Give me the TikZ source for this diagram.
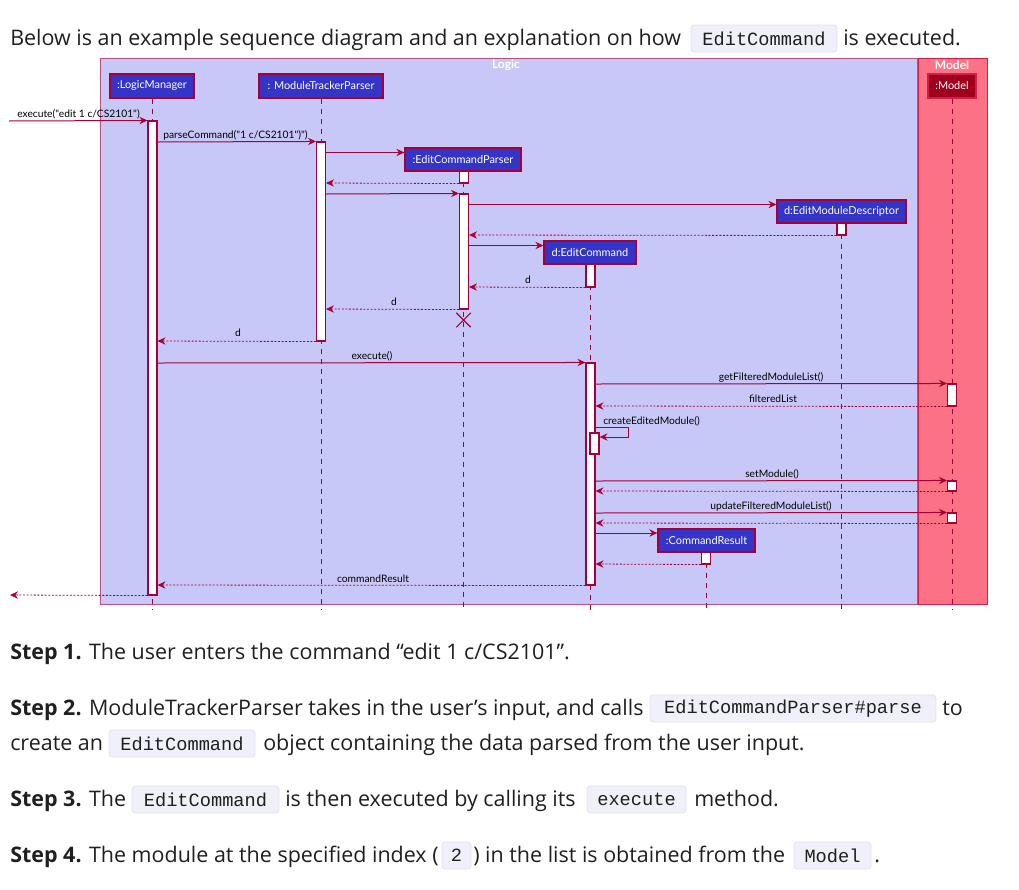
\documentclass[tikz,border=0pt]{standalone}
\usepackage{fontspec}
\setmainfont{Open Sans}
\newfontfamily\dgfont{Lato}
\setmonofont{Liberation Mono}
\usetikzlibrary{arrows.meta,shapes.misc}
\definecolor{crim}{HTML}{A80036}
\definecolor{logicfill}{HTML}{C8C8F8}
\definecolor{modelfill}{HTML}{FA7284}
\definecolor{framebd}{HTML}{C24B7F}
\definecolor{modelbd}{HTML}{D0204A}
\definecolor{partfill}{HTML}{3434C6}
\definecolor{modelpart}{HTML}{A0001C}
\definecolor{codebg}{HTML}{F0F0FA}
\definecolor{codebd}{HTML}{E2E2EE}
\definecolor{bodytext}{HTML}{1F1F1F}
\newcommand{\actbar}[4]{\node[act, minimum height={(#4-#3)*0.75pt}] (#1) at (#2,{(#3+#4)/2}) {};}
\begin{document}
\begin{tikzpicture}[x=0.75pt,y=-0.75pt,
  part/.style={draw=crim, fill=partfill, text=white, font=\dgfont\fontsize{8.2}{10}\selectfont, inner sep=0, line width=0.9pt},
  act/.style={draw=crim, fill=white, inner sep=0, minimum width=6.75pt, line width=0.8pt},
  life/.style={crim, dash pattern=on 3.75pt off 3.75pt, line width=0.6pt},
  msg/.style={crim, line width=0.75pt, -{Stealth[length=6pt,width=5.5pt,inset=2pt]}},
  ret/.style={msg, dash pattern=on 1.5pt off 1.2pt, line width=0.6pt},
  lbl/.style={font=\dgfont\fontsize{7.7}{9}\selectfont, inner sep=0, text=black},
  ftitle/.style={font=\dgfont\bfseries\fontsize{9}{10}\selectfont, text=white, inner sep=0},
  body/.style={anchor=base west, inner sep=0, text=bodytext, font=\fontsize{16.1}{19}\selectfont},
  code/.style={fill=codebg, draw=codebd, line width=0.6pt, rounded corners=2.5pt, inner sep=0, minimum height=20.25pt, font=\ttfamily\fontsize{14}{16}\selectfont, text=bodytext}
]
\useasboundingbox (0,0) rectangle (1019,889);

% ---------- web text ----------
\node[body] (t1a) at (10,45) {Below is an example sequence diagram and an explanation on how};
\node[code, minimum width=109.5pt] (c1) at (764,38.5) {EditCommand};
\node[body] (t1b) at (843,45) {is executed.};

% ---------- frames ----------
\node[draw=framebd, fill=logicfill, line width=0.75pt, minimum width=612.75pt, minimum height=409.5pt, inner sep=0] (logic) at (508.5,331) {};
\node[draw=modelbd, fill=modelfill, line width=0.75pt, minimum width=51.75pt, minimum height=409.5pt, inner sep=0] (modelf) at (952.5,331) {};
\node[ftitle] (logict) at (506,65) {Logic};
\node[ftitle] (modelt) at (952,65) {Model};

% ---------- participants ----------
\node[part, minimum width=63pt, minimum height=18pt] (lm) at (152,86) {:LogicManager};
\node[part, minimum width=93pt, minimum height=18pt] (mtp) at (321,86) {: ModuleTrackerParser};
\node[part, minimum width=87pt, minimum height=17.25pt] (ecp) at (463,159.5) {:EditCommandParser};
\node[part, minimum width=96.75pt, minimum height=17.25pt] (emd) at (841.5,211.5) {d:EditModuleDescriptor};
\node[part, minimum width=69pt, minimum height=17.25pt] (ec) at (590,252.5) {d:EditCommand};
\node[part, minimum width=72.75pt, minimum height=17.25pt] (cr) at (706.5,540.5) {:CommandResult};
\node[part, draw=modelbd, fill=modelpart, minimum width=36pt, minimum height=18pt] (model) at (952,86) {:Model};

% ---------- lifelines ----------
\coordinate (endy) at (0,610);
\draw[life] (lm.south) -- (lm.south |- endy);
\draw[life] (mtp.south) -- (mtp.south |- endy);
\draw[life] (ecp.south) -- (ecp.south |- endy);
\draw[life] (emd.south) -- (emd.south |- endy);
\draw[life] (ec.south) -- (ec.south |- endy);
\draw[life] (cr.south) -- (cr.south |- endy);
\draw[life] (model.south) -- (model.south |- endy);

% ---------- activation bars ----------
\actbar{lmA}{152.5}{121}{595}
\actbar{mtpA}{321}{142}{341}
\actbar{ecpA}{464}{171}{183}
\actbar{ecpB}{464}{194}{309}
\actbar{emdA}{841.5}{223}{235}
\actbar{ecA}{590.5}{264}{287}
\actbar{ecB}{590.5}{363}{585}
\actbar{ecS}{594.5}{433}{454}
\actbar{mdA}{952}{384}{406}
\actbar{mdB}{952}{481}{491}
\actbar{mdC}{952}{513}{523}
\actbar{crA}{706}{552}{564}

% destroy mark
\node[cross out, draw=crim, line width=0.8pt, minimum size=10pt, inner sep=0] (xd) at (463.5,320) {};

% ---------- messages ----------
\coordinate (inL) at (9,121);
\coordinate (outL) at (10,595);
\draw[msg] (inL) -- (lmA.north west);
\node[lbl, anchor=west] (l1) at (17,114) {execute("edit 1 c/CS2101")};

\draw[msg] (lmA.east |- 0,142) -- (mtpA.north west);
\node[lbl, anchor=west] (l2) at (163,135) {parseCommand("1 c/CS2101")")};

\draw[msg] (mtpA.east |- 0,152.5) -- (ecp.west |- 0,152.5);
\draw[ret] (ecpA.south west) -- (mtpA.east |- 0,183);
\draw[msg] (mtpA.east |- 0,194) -- (ecpB.north west);
\draw[msg] (ecpB.east |- 0,204.5) -- (emd.west |- 0,204.5);
\draw[ret] (emdA.south west) -- (ecpB.east |- 0,235);
\draw[msg] (ecpB.east |- 0,245.5) -- (ec.west |- 0,245.5);
\draw[ret] (ecA.south west) -- (ecpB.east |- 0,287);
\node[lbl] (l3) at (528,280) {d};
\draw[ret] (ecpB.south west) -- (mtpA.east |- 0,309);
\node[lbl] (l4) at (394,302) {d};
\draw[ret] (mtpA.south west) -- (lmA.east |- 0,341);
\node[lbl] (l5) at (238,333) {d};

\draw[msg] (lmA.east |- 0,363) -- (ecB.north west);
\node[lbl] (l6) at (372,356) {execute()};
\draw[msg] (ecB.east |- 0,384) -- (mdA.north west);
\node[lbl] (l7) at (771,377) {getFilteredModuleList()};
\draw[ret] (mdA.south west) -- (ecB.east |- 0,406);
\node[lbl] (l8) at (773,399) {filteredList};

\coordinate (selfR) at (628,427.5);
\draw[msg] (ecB.east |- selfR) -- (selfR) -- (selfR |- 0,437) -- (ecS.east |- 0,437);
\node[lbl, anchor=west] (l9) at (603,421) {createEditedModule()};

\draw[msg] (ecB.east |- 0,481) -- (mdB.north west);
\node[lbl] (l10) at (772,474) {setModule()};
\draw[ret] (mdB.south west) -- (ecB.east |- 0,491);
\draw[msg] (ecB.east |- 0,513) -- (mdC.north west);
\node[lbl] (l11) at (771,506) {updateFilteredModuleList()};
\draw[ret] (mdC.south west) -- (ecB.east |- 0,523);
\draw[msg] (ecB.east |- 0,533) -- (cr.west |- 0,533);
\draw[ret] (crA.south west) -- (ecB.east |- 0,564);
\draw[ret] (ecB.south west) -- (lmA.east |- 0,585);
\node[lbl] (l12) at (373,579) {commandResult};
\draw[ret] (lmA.south west) -- (outL);

% ---------- steps ----------
\node[body] (s1) at (10,659) {\textbf{Step 1.} The user enters the command “edit 1 c/CS2101”.};

\node[body] (s2a) at (10,715) {\textbf{Step 2.} ModuleTrackerParser takes in the user’s input, and calls};
\node[code, minimum width=214.5pt] (c2) at (793,708.5) {EditCommandParser\#parse};
\node[body] (s2b) at (942,715) {to};
\node[body] (s2c) at (10,750) {create an};
\node[code, minimum width=109.5pt] (c3) at (182,743.5) {EditCommand};
\node[body] (s2d) at (263,750) {object containing the data parsed from the user input.};

\node[body] (s3a) at (10,806) {\textbf{Step 3.} The};
\node[code, minimum width=110.25pt] (c4) at (205.5,799.5) {EditCommand};
\node[body] (s3b) at (285,806) {is then executed by calling its};
\node[code, minimum width=74.25pt] (c5) at (636.5,799.5) {execute};
\node[body] (s3c) at (694,806) {method.};

\node[body] (s4a) at (10,862) {\textbf{Step 4.} The module at the specified index (};
\node[code, minimum width=21.75pt] (c6) at (456.5,855.5) {2};
\node[body] (s4b) at (473,862) {) in the list is obtained from the};
\node[code, minimum width=57.75pt] (c7) at (832.5,855.5) {Model};
\node[body] (s4c) at (874,862) {.};
\end{tikzpicture}
\end{document}
